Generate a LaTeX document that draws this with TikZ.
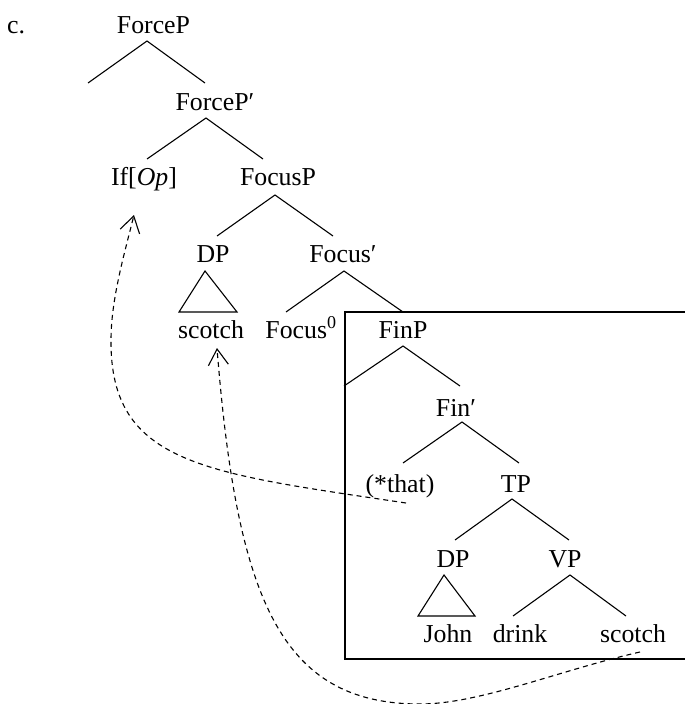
\documentclass[tikz,border=0pt]{standalone}
\usepackage{fontspec}
\setmainfont{Liberation Serif}
\usetikzlibrary{arrows.meta}
\begin{document}
\begin{tikzpicture}[x=1pt,y=-1pt,
  lbl/.style={anchor=base,inner sep=0pt,font=\fontsize{25.8}{30}\selectfont},
  br/.style={line width=1.1pt},
  tri/.style={line width=1.1pt,line join=miter},
  boxline/.style={line width=1.1pt},
  mv/.style={line width=1.1pt,dash pattern=on 5pt off 4pt,
    -{Straight Barb[length=16pt,width=20pt,line width=1.1pt]}}]
\useasboundingbox (0,0) rectangle (685,704);

% labels
\node[lbl,anchor=base west] (ex) at (7,33) {c.};
\node[lbl] (forceP) at (153.5,33) {ForceP};
\node[lbl] (forceB) at (215,110) {ForceP′};
\node[lbl] (ifop) at (144,185) {If[\textit{Op}]};
\node[lbl] (focusP) at (278,185) {FocusP};
\node[lbl] (dp1) at (213,262) {DP};
\node[lbl] (scotch1) at (211,338) {scotch};
\node[lbl] (focusB) at (343,262) {Focus′};
\node[lbl] (focus0) at (301,338) {Focus\textsuperscript{0}};
\node[lbl] (finP) at (403,338) {FinP};
\node[lbl] (finB) at (456,416) {Fin′};
\node[lbl] (that) at (400,492) {(*that)};
\node[lbl] (tp) at (516,492) {TP};
\node[lbl] (dp2) at (453,567) {DP};
\node[lbl] (vp) at (565,567) {VP};
\node[lbl] (john) at (448,642) {John};
\node[lbl] (drink) at (520,642) {drink};
\node[lbl] (scotch2) at (633,642) {scotch};

% branch points
\coordinate (a1) at (147,41);  \coordinate (a1l) at (88,83);   \coordinate (a1r) at (205,83);
\coordinate (a2) at (206,118); \coordinate (a2l) at (147,159); \coordinate (a2r) at (263,159);
\coordinate (a3) at (275,195); \coordinate (a3l) at (217,236); \coordinate (a3r) at (333,236);
\coordinate (a4) at (344,271); \coordinate (a4l) at (286,312); \coordinate (a4r) at (403,312);
\coordinate (a5) at (403,346); \coordinate (a5l) at (344,386); \coordinate (a5r) at (460,386);
\coordinate (a6) at (462,422); \coordinate (a6l) at (403,463); \coordinate (a6r) at (519,463);
\coordinate (a7) at (512,499); \coordinate (a7l) at (455,540); \coordinate (a7r) at (569,540);
\coordinate (a8) at (570,575); \coordinate (a8l) at (513,616); \coordinate (a8r) at (626,616);
\coordinate (t1) at (205,271); \coordinate (t1l) at (179,312); \coordinate (t1r) at (237,312);
\coordinate (t2) at (444,575); \coordinate (t2l) at (418,616); \coordinate (t2r) at (475,616);

\draw[br] (a1l) -- (a1) -- (a1r);
\draw[br] (a2l) -- (a2) -- (a2r);
\draw[br] (a3l) -- (a3) -- (a3r);
\draw[br] (a4l) -- (a4) -- (a4r);
\draw[br] (a5l) -- (a5) -- (a5r);
\draw[br] (a6l) -- (a6) -- (a6r);
\draw[br] (a7l) -- (a7) -- (a7r);
\draw[br] (a8l) -- (a8) -- (a8r);
\draw[tri] (t1) -- (t1l) -- (t1r) -- cycle;
\draw[tri] (t2) -- (t2l) -- (t2r) -- cycle;

% box
\coordinate (bx1) at (687,312); \coordinate (bx2) at (345,312);
\coordinate (bx3) at (345,659); \coordinate (bx4) at (687,659);
\draw[boxline] (bx1) -- (bx2) -- (bx3) -- (bx4);

% movement arrows
\coordinate (m1s) at (406,503); \coordinate (m1e) at (134,215);
\coordinate (m2s) at (640,652); \coordinate (m2e) at (217,348);
\draw[mv] (m1s) .. controls (206,473) and (110,465) .. (111,340)
  .. controls (111,300) and (124,255) .. (m1e);
\draw[mv] (m2s) .. controls (560,670) and (480,704) .. (420,704)
  .. controls (280,704) and (237,598) .. (m2e);
\end{tikzpicture}
\end{document}
